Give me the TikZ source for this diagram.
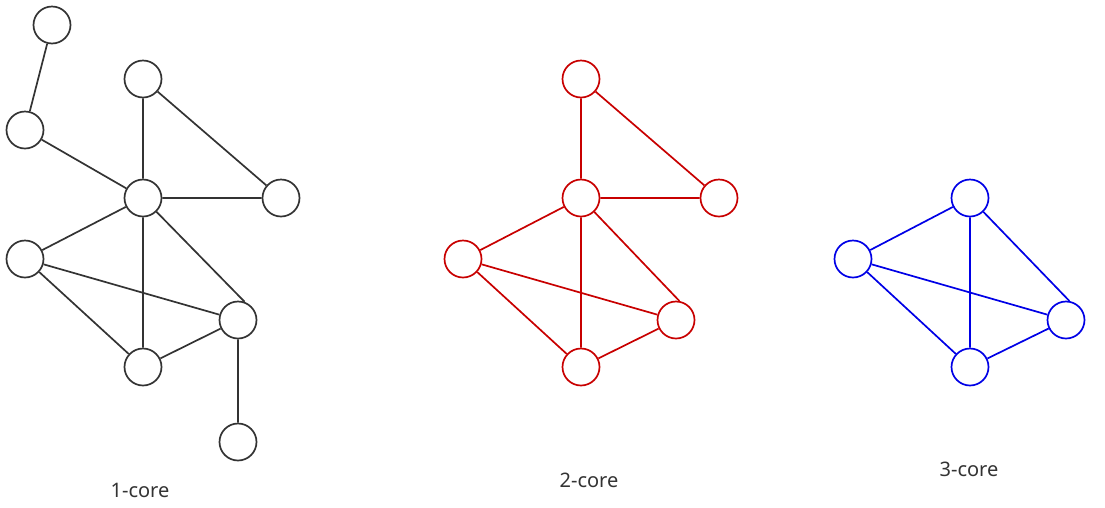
\documentclass[tikz,border=0pt]{standalone}
\usepackage{fontspec}
\setmainfont{Noto Sans}
\definecolor{kgray}{HTML}{333333}
\definecolor{kred}{HTML}{C80000}
\definecolor{kblue}{HTML}{0000E6}
\begin{document}
\begin{tikzpicture}[x=1pt,y=-1pt,
  vtx/.style={draw,circle,minimum size=37pt,inner sep=0pt,line width=1.7pt,fill=white},
  edge/.style={line width=1.7pt},
  lbl/.style={font=\fontsize{20}{22}\selectfont,text=kgray}]
\useasboundingbox (0,0) rectangle (1105,507);
\begin{scope}[every node/.append style={vtx,draw=kgray}]
\node (A) at (52,25) {};
\node (B) at (25,130) {};
\node (C) at (143,79) {};
\node (D) at (143,198) {};
\node (E) at (281,198) {};
\node (F) at (25,259) {};
\node (G) at (238,320) {};
\node (H) at (143,367) {};
\node (I) at (238,442) {};
\end{scope}
\draw[edge,kgray] (A)--(B) (B)--(D) (C)--(D) (C)--(E) (D)--(E) (D)--(F) (D)--(H) (D)--(G.70) (F)--(G) (F)--(H) (H)--(G) (G)--(I);
\begin{scope}[every node/.append style={vtx,draw=kred}]
\node (R1) at (581,79) {};
\node (R2) at (581,198) {};
\node (R3) at (719,198) {};
\node (R4) at (463,259) {};
\node (R5) at (676,320) {};
\node (R6) at (581,367) {};
\end{scope}
\draw[edge,kred] (R1)--(R2) (R1)--(R3) (R2)--(R3) (R2)--(R4) (R2)--(R6) (R2)--(R5.80) (R4)--(R5) (R4)--(R6) (R6)--(R5);
\begin{scope}[every node/.append style={vtx,draw=kblue}]
\node (B1) at (970,198) {};
\node (B2) at (853,259) {};
\node (B3) at (1066,320) {};
\node (B4) at (970,367) {};
\end{scope}
\draw[edge,kblue] (B1)--(B2) (B1)--(B4) (B1)--(B3.80) (B2)--(B3) (B2)--(B4) (B4)--(B3);
\node[lbl] (L1) at (140,490) {1-core};
\node[lbl] (L2) at (589,480) {2-core};
\node[lbl] (L3) at (969,469) {3-core};
\end{tikzpicture}
\end{document}
